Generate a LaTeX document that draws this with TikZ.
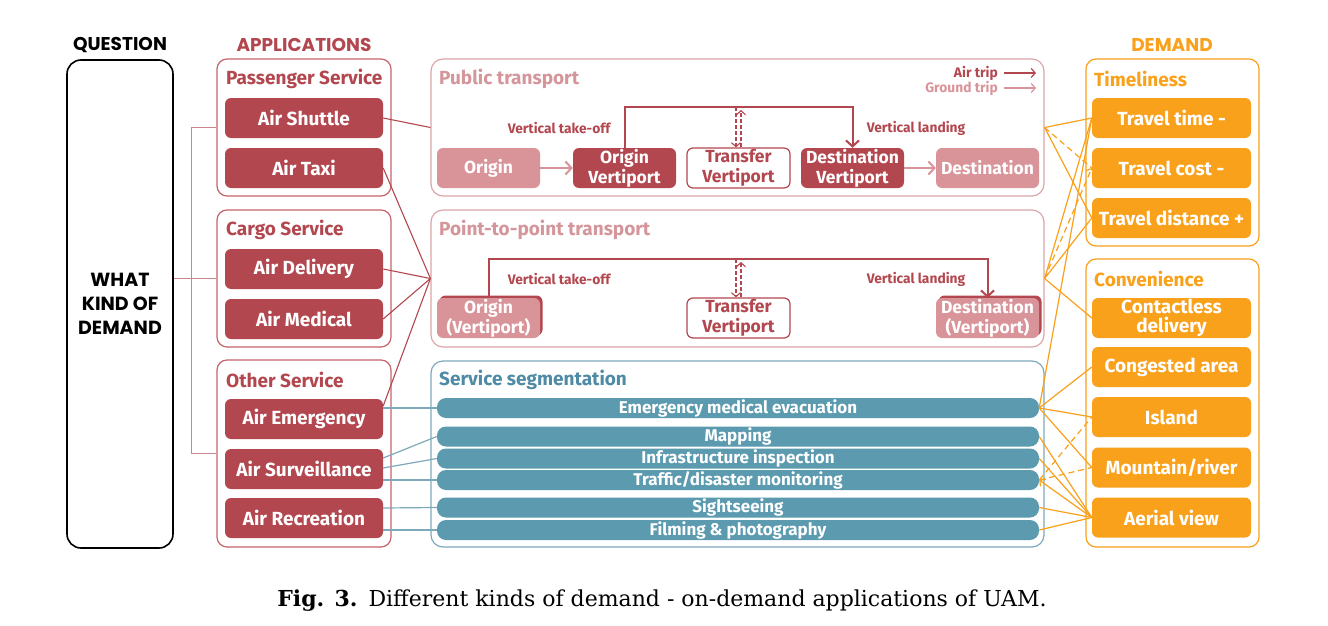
\documentclass[tikz,border=0pt]{standalone}
\usepackage{fontspec}
\setmainfont{Fira Sans}
\newfontfamily\headfont{Poppins}
\newfontfamily\capfont{DejaVu Serif}
\usetikzlibrary{arrows.meta,calc,shadows}
\definecolor{appred}{HTML}{B3474F}
\definecolor{grpred}{HTML}{C4646C}
\definecolor{lpink}{HTML}{D9949A}
\definecolor{panelpink}{HTML}{DBA6AA}
\definecolor{ptitle}{HTML}{D4959B}
\definecolor{brk}{HTML}{CB858C}
\definecolor{barblue}{HTML}{5B9AAF}
\definecolor{segblue}{HTML}{7EA9BA}
\definecolor{segtitle}{HTML}{4F8BA5}
\definecolor{dor}{HTML}{F9A11B}
\tikzset{
  hdr/.style={inner sep=0pt, font=\headfont\bfseries\fontsize{18.5}{20}\selectfont},
  qbox/.style={draw=black, line width=1.6pt, rounded corners=14pt, minimum width=106pt, minimum height=488pt, inner sep=0pt, align=center, font=\headfont\bfseries\fontsize{19}{24}\selectfont},
  appgrp/.style={draw=grpred, rounded corners=10pt, line width=1.2pt, inner sep=0pt, minimum width=174pt},
  grptitle/.style={anchor=west, inner sep=0pt, font=\bfseries\fontsize{19}{20}\selectfont},
  appbox/.style={fill=appred, text=white, rounded corners=6pt, minimum width=158pt, minimum height=40pt, inner sep=0pt, font=\bfseries\fontsize{19}{20}\selectfont},
  panel/.style={draw=panelpink, rounded corners=12pt, line width=1.2pt, inner sep=0pt, minimum width=613pt},
  stopbox/.style={rounded corners=6pt, minimum width=103pt, minimum height=40pt, inner sep=0pt, align=center, font=\bfseries\fontsize{17.5}{20}\selectfont},
  airlbl/.style={inner sep=0pt, text=appred, font=\bfseries\fontsize{13.8}{15}\selectfont},
  barbox/.style={fill=barblue, text=white, rounded corners=9pt, minimum width=602pt, minimum height=20pt, inner sep=0pt, font=\bfseries\fontsize{17}{17}\selectfont},
  orgrp/.style={draw=dor, rounded corners=10pt, line width=1.2pt, inner sep=0pt, minimum width=173pt},
  orbox/.style={fill=dor, text=white, rounded corners=6pt, minimum width=159pt, minimum height=40pt, inner sep=0pt, align=center, font=\bfseries\fontsize{19}{19}\selectfont},
  redline/.style={draw=appred, line width=1.1pt},
  brkline/.style={draw=brk, line width=1.2pt},
  blueline/.style={draw=segblue, line width=1.2pt},
  oline/.style={draw=dor, line width=1.2pt},
  odash/.style={draw=dor, line width=1.2pt, dash pattern=on 6pt off 4pt},
  airline/.style={draw=appred, line width=2pt},
  gndline/.style={draw=lpink, line width=2pt},
  chev/.style={-{Straight Barb[length=6pt,width=13pt]}},
  smallchev/.style={-{Straight Barb[length=4pt,width=9pt]}},
}
\begin{document}
\begin{tikzpicture}[x=1pt,y=-1pt]
\useasboundingbox[fill=white] (0,0) rectangle (1328,626);

% headers
\node[hdr] (hq) at (120,45) {QUESTION};
\node[hdr, text=appred] (ha) at (304,45) {APPLICATIONS};
\node[hdr, text=dor] (hd) at (1172,45) {DEMAND};

% question
\node[qbox] (q) at (120,304) {WHAT\\KIND OF\\DEMAND};

% application groups
\node[appgrp, minimum height=137pt] (pas) at (304,127.5) {};
\node[appgrp, minimum height=137pt] (cargo) at (304,278.5) {};
\node[appgrp, minimum height=187pt] (oth) at (304,453.5) {};
\node[grptitle, text=appred] (tpas) at (226,79) {Passenger Service};
\node[grptitle, text=appred] (tcargo) at (226,230) {Cargo Service};
\node[grptitle, text=appred] (toth) at (226,380) {Other Service};
\node[appbox] (shuttle) at (304,118) {Air Shuttle};
\node[appbox] (taxi) at (304,168) {Air Taxi};
\node[appbox] (deliv) at (304,269) {Air Delivery};
\node[appbox] (medic) at (304,319) {Air Medical};
\node[appbox] (emerg) at (304,419) {Air Emergency};
\node[appbox] (surv) at (304,469) {Air Surveillance};
\node[appbox] (recr) at (304,518) {Air Recreation};

% bracket
\draw[brkline] (pas.west) -- ++(-25,0) |- (oth.west);
\draw[brkline] (cargo.west) -- (cargo.west -| q.east);

% panels
\node[panel, minimum height=137pt] (pub) at (737.5,127.5) {};
\node[panel, minimum height=137pt] (p2p) at (737.5,278.5) {};
\node[panel, draw=segblue, minimum height=186pt] (seg) at (737.5,454) {};
\node[grptitle, text=ptitle] (tpub) at (439,79) {Public transport};
\node[grptitle, text=ptitle] (tp2p) at (439,230) {Point-to-point transport};
\node[grptitle, text=segtitle] (tseg) at (439,380) {Service segmentation};

% legend
\node[airlbl, anchor=east] (lg1) at (998,73) {Air trip};
\node[airlbl, anchor=east, text=lpink] (lg2) at (998,88) {Ground trip};
\coordinate (lg1e) at (1036,73);
\coordinate (lg2e) at (1036,88);
\draw[draw=appred, line width=1.2pt, smallchev] ([xshift=6pt]lg1.east) -- (lg1e);
\draw[draw=lpink, line width=1.2pt, smallchev] ([xshift=6pt]lg2.east) -- (lg2e);

% public transport chain
\node[stopbox, fill=lpink, text=white] (orig) at (488.5,168) {Origin};
\node[stopbox, fill=appred, text=white] (ov) at (624.5,168) {Origin\\Vertiport};
\node[stopbox, fill=white, draw=appred, line width=1.2pt, text=appred] (tv) at (738.5,168) {Transfer\\Vertiport};
\node[stopbox, fill=appred, text=white] (dv) at (852.5,168) {Destination\\Vertiport};
\node[stopbox, fill=lpink, text=white] (dest) at (987.5,168) {Destination};
\draw[gndline, chev] (orig) -- (ov);
\draw[gndline, chev] (dv) -- (dest);
\coordinate (route) at (0,107);
\draw[airline, chev] (ov.north) -- (ov.north |- route) -| (dv.north);
\coordinate (tva) at ($(tv.north)+(-2.5,0)$);
\coordinate (tvb) at ($(tv.north)+(2.5,0)$);
\draw[draw=appred, line width=1.1pt, dash pattern=on 4pt off 2pt, smallchev] (tva |- route) -- (tva);
\draw[draw=appred, line width=1.1pt, dash pattern=on 4pt off 2pt, smallchev] (tvb) -- ($(tvb |- route)+(0,3)$);
\node[airlbl] (vt1) at (559,128) {Vertical take-off};
\node[airlbl] (vl1) at (916,128) {Vertical landing};

% point-to-point chain
\node[stopbox, fill=lpink, text=white, drop shadow={shadow xshift=2.5pt, shadow yshift=2.5pt, fill=appred, opacity=1}] (orig2) at (488.5,318) {Origin\\(Vertiport)};
\node[stopbox, fill=white, draw=appred, line width=1.2pt, text=appred] (tv2) at (738.5,318) {Transfer\\Vertiport};
\node[stopbox, fill=lpink, text=white, drop shadow={shadow xshift=2.5pt, shadow yshift=2.5pt, fill=appred, opacity=1}] (dest2) at (987.5,318) {Destination\\(Vertiport)};
\coordinate (route2) at (0,259);
\draw[airline, chev] (orig2.north) -- (orig2.north |- route2) -| (dest2.north);
\coordinate (tvc) at ($(tv2.north)+(-2.5,0)$);
\coordinate (tvd) at ($(tv2.north)+(2.5,0)$);
\draw[draw=appred, line width=1.1pt, dash pattern=on 4pt off 2pt, smallchev] (tvc |- route2) -- (tvc);
\draw[draw=appred, line width=1.1pt, dash pattern=on 4pt off 2pt, smallchev] (tvd) -- ($(tvd |- route2)+(0,3)$);
\node[airlbl] (vt2) at (559,279) {Vertical take-off};
\node[airlbl] (vl2) at (916,279) {Vertical landing};

% service bars
\node[barbox] (b1) at (738,408) {Emergency medical evacuation};
\node[barbox] (b2) at (738,436.5) {Mapping};
\node[barbox] (b3) at (738,458.5) {Infrastructure inspection};
\node[barbox] (b4) at (738,480) {Traffic/disaster monitoring};
\node[barbox] (b5) at (738,507.5) {Sightseeing};
\node[barbox] (b6) at (738,530) {Filming \& photography};

% demand groups
\node[orgrp, minimum height=187pt] (tim) at (1172.5,152.5) {};
\node[orgrp, minimum height=288pt] (conv) at (1172.5,403) {};
\node[grptitle, text=dor] (ttim) at (1094,79) {Timeliness};
\node[grptitle, text=dor] (tconv) at (1094,279) {Convenience};
\node[orbox] (tt) at (1171.5,118) {Travel time -};
\node[orbox] (tc) at (1171.5,168) {Travel cost -};
\node[orbox] (td) at (1171.5,218) {Travel distance +};
\node[orbox] (cd) at (1171.5,318) {Contactless\\delivery};
\node[orbox] (ca) at (1171.5,367) {Congested area};
\node[orbox] (isl) at (1171.5,417) {Island};
\node[orbox] (mr) at (1171.5,467.5) {Mountain/river};
\node[orbox] (av) at (1171.5,517.5) {Aerial view};

% red connectors
\draw[redline] (shuttle.east) -- (pub.west);
\draw[redline] (taxi.east) -- (p2p.west);
\draw[redline] (deliv.east) -- (p2p.west);
\draw[redline] (medic.east) -- (p2p.west);
\draw[redline] ([yshift=13pt]emerg.east) -- (p2p.west);

% blue connectors
\draw[blueline] ([yshift=11pt]emerg.east) -- (b1.west);
\draw[blueline] ([yshift=11pt]surv.east) -- (b2.west);
\draw[blueline] ([yshift=1pt]surv.east) -- (b3.west);
\draw[blueline] ([yshift=-11pt]surv.east) -- (b4.west);
\draw[blueline] ([yshift=10pt]recr.east) -- (b5.west);
\draw[blueline] ([yshift=-12pt]recr.east) -- (b6.west);

% orange connectors
\draw[oline] (pub.east) -- (tt.west);
\draw[odash] (pub.east) -- (tc.west);
\draw[oline] (pub.east) -- (td.west);
\draw[oline] (p2p.east) -- (tt.west);
\draw[odash, smallchev] (p2p.east) -- (tc.west);
\draw[oline] (p2p.east) -- (td.west);
\draw[oline] (p2p.east) -- (cd.west);
\draw[oline] (b1.east) -- (tt.west);
\draw[oline] (b1.east) -- (ca.west);
\draw[oline] (b1.east) -- (isl.west);
\draw[oline] (b1.east) -- (mr.west);
\draw[oline] (b2.east) -- (av.west);
\draw[oline] (b3.east) -- (av.west);
\draw[oline, smallchev] (av.west) -- (b4.east);
\draw[oline] (b5.east) -- (av.west);
\draw[oline] (b6.east) -- (av.west);
\draw[odash] (b4.east) -- (isl.west);
\draw[odash] (b4.east) -- (mr.west);

% caption
\node[inner sep=0pt, font=\capfont\fontsize{22}{24}\selectfont] (cap) at (662,601) {\textbf{Fig. 3.}\enspace Different kinds of demand - on-demand applications of UAM.};
\end{tikzpicture}
\end{document}
